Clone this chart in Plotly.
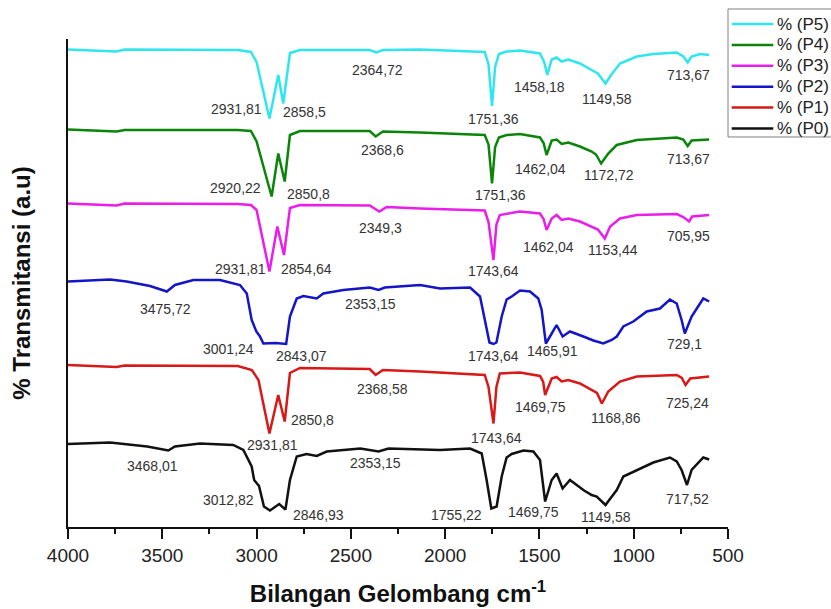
import plotly.graph_objects as go

# ---- FTIR spectra (wavenumber in cm-1, transmittance in a.u. with vertical offsets) ----
wn_p5 = [4000, 3742, 3700, 3400, 3100, 3030, 3000, 2931.81, 2885, 2858.5, 2823, 2770, 2400, 2364.72,
         2330, 2133, 1790, 1770, 1751.36, 1735, 1715, 1674, 1603, 1497, 1475, 1458.18, 1435, 1409,
         1382, 1347, 1285, 1223, 1190, 1149.58, 1120, 1073, 984, 896, 772, 737, 713.67, 693, 649, 600]
t_p5 = [95.5, 95.1, 95.5, 95.5, 95.4, 95.0, 93.0, 81.7, 90.4, 84.7, 94.8, 95.4, 95.4, 94.9,
        95.4, 95.5, 95.0, 92.5, 84.2, 92.0, 94.6, 95.1, 95.3, 94.7, 93.0, 90.4, 93.5, 93.9,
        93.1, 93.5, 92.7, 91.4, 90.7, 88.7, 90.4, 92.7, 94.1, 94.6, 94.9, 94.1, 92.9, 94.1, 94.6, 94.4]

wn_p4 = [4000, 3742, 3700, 3100, 3030, 3000, 2920.22, 2885, 2850.8, 2823, 2770, 2400, 2368.6, 2330,
         2133, 1790, 1770, 1751.36, 1735, 1715, 1674, 1603, 1497, 1478, 1462.04, 1435, 1409, 1382,
         1347, 1285, 1223, 1200, 1172.72, 1135, 1090, 984, 772, 737, 713.67, 693, 600]
t_p4 = [79.5, 79.1, 79.4, 79.4, 79.2, 77.1, 66.1, 74.7, 69.1, 78.4, 79.2, 79.2, 78.1, 79.1,
        78.9, 78.4, 76.5, 68.7, 76.0, 77.9, 78.4, 78.6, 77.9, 76.8, 74.4, 77.3, 77.5, 76.6,
        76.9, 76.1, 75.1, 74.5, 72.7, 74.7, 76.4, 77.4, 77.9, 77.5, 76.2, 77.3, 77.5]

wn_p3 = [4000, 3742, 3700, 3100, 3030, 3000, 2931.81, 2890, 2854.64, 2823, 2770, 2400, 2349.3, 2310,
         2133, 1790, 1770, 1743.64, 1728, 1710, 1603, 1497, 1478, 1462.04, 1435, 1409, 1382, 1347,
         1285, 1223, 1190, 1153.44, 1125, 1073, 984, 772, 737, 705.95, 690, 600]
t_p3 = [64.7, 64.3, 64.7, 64.6, 64.4, 63.4, 51.1, 60.1, 54.4, 63.8, 64.4, 64.3, 63.1, 64.0,
        63.7, 63.3, 61.0, 53.4, 60.5, 62.4, 63.1, 62.7, 61.6, 59.4, 61.7, 62.4, 61.4, 61.7,
        61.1, 60.1, 59.5, 57.7, 60.1, 61.7, 62.4, 62.6, 62.0, 61.1, 62.1, 62.4]

wn_p2 = [4000, 3777, 3689, 3565, 3475.72, 3433, 3335, 3194, 3088, 3052, 3026, 3001.24, 2982, 2964,
         2900, 2843.07, 2823, 2787, 2752, 2681, 2646, 2540, 2400, 2353.15, 2320, 2133, 2027, 1868,
         1815, 1780, 1765, 1743.64, 1728, 1700, 1674, 1647, 1603, 1550, 1506, 1488, 1465.91, 1435,
         1409, 1377, 1338, 1267, 1214, 1161, 1117, 1090, 1055, 1002, 931, 861, 808, 772, 746,
         729.1, 693, 631, 600]
t_p2 = [49.1, 49.5, 49.1, 48.2, 47.1, 48.4, 49.4, 49.4, 48.4, 46.7, 41.4, 39.1, 38.1, 36.7,
        36.8, 36.6, 42.1, 45.7, 46.2, 45.7, 46.7, 47.4, 47.9, 47.4, 47.9, 48.4, 47.7, 47.9,
        46.1, 40.1, 36.9, 36.6, 36.9, 42.1, 45.5, 46.1, 47.3, 47.1, 45.7, 43.4, 36.7, 38.7,
        40.4, 38.1, 39.1, 38.1, 37.3, 36.7, 37.4, 38.1, 40.1, 41.1, 43.1, 43.7, 45.5, 44.7, 41.4,
        38.7, 42.1, 45.7, 45.1]

wn_p1 = [4000, 3742, 3700, 3100, 3025, 2990, 2931.81, 2885, 2850.8, 2823, 2770, 2400, 2368.58, 2330,
         2133, 1790, 1770, 1743.64, 1728, 1710, 1603, 1497, 1480, 1469.75, 1435, 1409, 1382, 1347,
         1285, 1223, 1195, 1168.86, 1135, 1073, 984, 772, 745, 725.24, 700, 600]
t_p1 = [32.4, 32.0, 32.3, 32.2, 31.4, 29.4, 18.7, 26.4, 21.1, 30.8, 31.8, 31.6, 30.4, 31.4,
        31.1, 30.4, 28.0, 20.7, 28.0, 30.7, 30.9, 30.2, 29.0, 26.4, 29.7, 30.0, 29.1, 29.4,
        28.7, 27.4, 26.8, 24.7, 27.1, 29.1, 30.1, 30.4, 29.8, 28.4, 29.7, 30.1]

wn_p0 = [4000, 3777, 3580, 3468.01, 3433, 3300, 3124, 3070, 3026, 3012.82, 2987, 2961, 2929, 2880,
         2846.93, 2823, 2787, 2735, 2681, 2628, 2450, 2353.15, 2300, 2027, 1868, 1806, 1780, 1755.22,
         1727, 1700, 1674, 1647, 1585, 1532, 1497, 1483, 1469.75, 1435, 1409, 1377, 1338, 1267, 1223,
         1196, 1149.58, 1130, 1090, 1055, 984, 896, 808, 772, 746, 717.52, 693, 631, 600]
t_p0 = [16.6, 16.9, 16.1, 15.3, 16.1, 16.7, 16.4, 15.4, 12.1, 9.4, 8.2, 4.1, 3.3, 4.6,
        3.5, 9.4, 14.1, 14.6, 14.2, 15.1, 15.7, 15.1, 15.7, 15.4, 15.7, 14.7, 9.4, 3.7,
        4.1, 10.1, 13.9, 14.6, 15.3, 15.1, 13.4, 9.4, 5.1, 9.4, 10.7, 7.7, 9.4, 7.4, 6.4,
        6.1, 4.4, 5.4, 7.4, 10.1, 11.4, 12.9, 13.9, 13.1, 11.4, 8.4, 11.4, 13.9, 13.5]

series_names = ["% (P5)", "% (P4)", "% (P3)", "% (P2)", "% (P1)", "% (P0)"]

# peak labels (wavenumbers written with decimal comma)
peaks_p5 = ["2931,81", "2858,5", "2364,72", "1751,36", "1458,18", "1149,58", "713,67"]
peaks_p4 = ["2920,22", "2850,8", "2368,6", "1751,36", "1462,04", "1172,72", "713,67"]
peaks_p3 = ["2931,81", "2854,64", "2349,3", "1743,64", "1462,04", "1153,44", "705,95"]
peaks_p2 = ["3475,72", "3001,24", "2843,07", "2353,15", "1743,64", "1465,91", "729,1"]
peaks_p1 = ["2368,58", "2850,8", "2931,81", "1743,64", "1469,75", "1168,86", "725,24"]
peaks_p0 = ["3468,01", "3012,82", "2846,93", "2353,15", "1755,22", "1469,75", "1149,58", "717,52"]

# ---- styling / placement ----
colors = ["#30E6EE", "#0A850A", "#EA1EEA", "#1515C8", "#D91818", "#111111"]
FONT = "Liberation Sans, Arial, sans-serif"

label_pos_p5 = [(3105, 83.6), (2748, 83.0), (2361, 91.5), (1741, 81.6), (1497, 88.0), (1140, 85.7), (712, 90.4)]
label_pos_p4 = [(3111, 67.9), (2727, 66.7), (2331, 75.4), (1705, 66.4), (1493, 71.7), (1131, 70.4), (712, 73.7)]
label_pos_p3 = [(3086, 51.6), (2734, 51.6), (2345, 59.9), (1741, 51.3), (1453, 56.1), (1108, 55.5), (707, 58.2)]
label_pos_p2 = [(3484, 43.6), (3150, 35.6), (2761, 34.3), (2398, 44.6), (1741, 34.3), (1433, 35.3), (730, 36.6)]
label_pos_p1 = [(2330, 27.6), (2701, 21.5), (2917, 16.5), (1727, 17.9), (1493, 24.0), (1096, 21.9), (717, 24.9)]
label_pos_p0 = [(3553, 12.3), (3150, 5.5), (2673, 2.5), (2370, 12.8), (1939, 2.5), (1532, 3.0), (1145, 2.1), (716, 5.7)]

spectra = [(wn_p5, t_p5), (wn_p4, t_p4), (wn_p3, t_p3), (wn_p2, t_p2), (wn_p1, t_p1), (wn_p0, t_p0)]
peak_sets = [peaks_p5, peaks_p4, peaks_p3, peaks_p2, peaks_p1, peaks_p0]
label_sets = [label_pos_p5, label_pos_p4, label_pos_p3, label_pos_p2, label_pos_p1, label_pos_p0]

fig = go.Figure()
for name, (wn, t), col in zip(series_names, spectra, colors):
    fig.add_trace(go.Scatter(x=wn, y=t, mode="lines", name=name, showlegend=False,
                             line=dict(color=col, width=2.5)))

annotations = []
for peaks, positions in zip(peak_sets, label_sets):
    for text, (lx, ly) in zip(peaks, positions):
        annotations.append(dict(x=lx, y=ly, xref="x", yref="y", text=text, showarrow=False,
                                xanchor="center", yanchor="middle",
                                font=dict(family=FONT, size=14, color="#333333")))

# key box at the upper right, outside the plotting area (paper coordinates)
shapes = [dict(type="rect", xref="paper", yref="paper", x0=1.0, x1=1.165, y0=0.7992, y1=1.0615,
               line=dict(color="#808080", width=1), fillcolor="white", layer="above")]
key_top, key_step = 1.0307, 0.0428
for i, (name, col) in enumerate(zip(series_names, colors)):
    yk = key_top - i * key_step
    shapes.append(dict(type="line", xref="paper", yref="paper", x0=1.0056, x1=1.0686, y0=yk, y1=yk,
                       line=dict(color=col, width=2.5)))
    annotations.append(dict(x=1.0712, y=yk, xref="paper", yref="paper", text=name, showarrow=False,
                            xanchor="left", yanchor="middle",
                            font=dict(family=FONT, size=17, color="#222222")))

fig.update_layout(
    width=831, height=609, autosize=False,
    margin=dict(l=68, r=103, t=39, b=82),
    paper_bgcolor="white", plot_bgcolor="white",
    font=dict(family=FONT, color="#222222"),
    showlegend=False,
    annotations=annotations,
    shapes=shapes,
    xaxis=dict(range=[4000, 500], tick0=500, dtick=500, ticks="outside", ticklen=10,
               tickwidth=2, tickcolor="#111111", showline=True, linewidth=2, linecolor="#111111",
               showgrid=False, zeroline=False, automargin=False,
               tickfont=dict(family=FONT, size=19, color="#222222"),
               minor=dict(dtick=250, ticks="outside", ticklen=5, tickwidth=2, tickcolor="#111111"),
               title=dict(text="Bilangan Gelombang cm<sup>-1</sup>", standoff=20,
                          font=dict(family=FONT, size=24, color="#111111", weight="bold"))),
    yaxis=dict(range=[0, 97.6], showline=True, linewidth=2, linecolor="#111111",
               showticklabels=False, ticks="", showgrid=False, zeroline=False, automargin=False,
               title=dict(text="% Transmitansi (a.u)", standoff=29,
                          font=dict(family=FONT, size=24, color="#111111", weight="bold"))),
)

fig.write_html("out.html")
